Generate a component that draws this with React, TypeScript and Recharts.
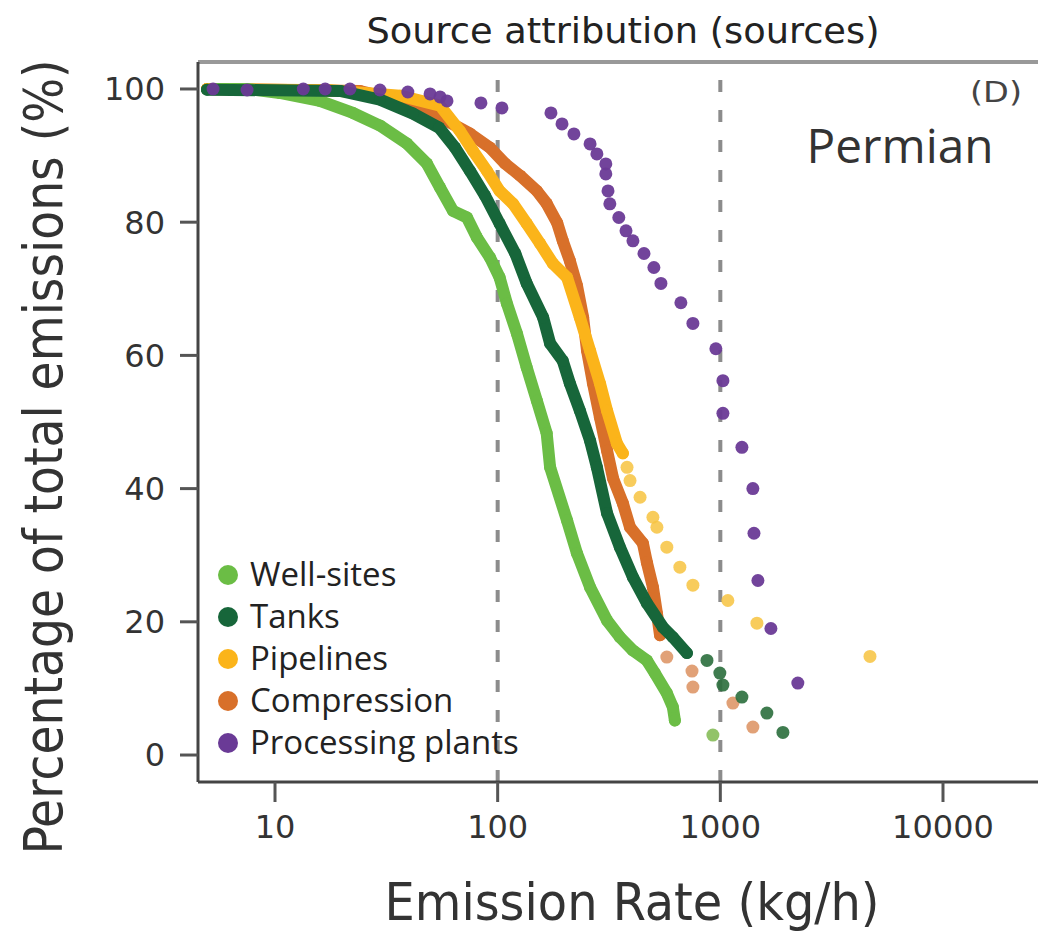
import React from 'react';
import { ComposedChart, Scatter, XAxis, YAxis, ReferenceLine } from 'recharts';

// ---- axes ----
const xTicks = [10, 100, 1000, 10000];
const yTicks = [0, 20, 40, 60, 80, 100];
const xDomain: [number, number] = [4.51, 26710];
const yDomain: [number, number] = [-4.05, 104.05];
const guideLines = [100, 1000];

// ---- series (emission rate kg/h, cumulative % of total emissions) ----
const wellSitesLine: [number, number][] = [
  [5.5, 100], [7.5, 100], [10.5, 99.4], [15.9, 98.2], [22.4, 96.4], [29.6, 94.5], [39.1, 91.8],
  [48.1, 88.8], [55.1, 85.2], [63, 81.7], [72.8, 80.7], [80.7, 77.7], [92.3, 74.7], [102, 71.7],
  [110, 67.8], [122, 63.3], [135, 58.2], [150, 53.2], [166, 48.3], [172, 43.2], [205, 35.2],
  [227, 30.3], [260, 25.2], [310, 20.2], [354, 17.7], [405, 15.7], [468, 14.2], [508, 12.3],
  [575, 9.3], [612, 7.2], [625, 5.2],
];
const wellSitesTail: [number, number][] = [[926, 3.0]];

const tanksLine: [number, number][] = [
  [4.95, 99.9], [19.6, 99.7], [29.6, 98.4], [41.7, 96.3], [54.5, 94.2], [64.3, 91.2], [75.1, 87.7],
  [87.7, 84], [102, 79.8], [120, 75.3], [135, 70.8], [160, 65.7], [172, 61.8], [196, 59.2],
  [211, 55.8], [234, 51.7], [260, 47.2], [279, 43.2], [310, 36.3], [354, 31.2], [405, 26.7],
  [468, 22.8], [552, 19.2], [612, 17.7], [708, 15.3],
];
const tanksTail: [number, number][] = [
  [871, 14.2], [995, 12.3], [1027, 10.5], [1250, 8.7], [1618, 6.3], [1910, 3.4],
];

const pipelinesLine: [number, number][] = [
  [4.95, 100], [17.7, 99.8], [36.4, 99], [55.1, 97.5], [67.7, 93.7], [77.5, 90.7], [89.5, 87.7],
  [102, 84.7], [117, 82.8], [135, 79.8], [155, 76.8], [177, 73.8], [205, 71.7], [234, 65.7],
  [260, 60.7], [288, 55.8], [310, 51.7], [343, 46.8], [365, 45.3],
];
const pipelinesTail: [number, number][] = [
  [381, 43.2], [393, 41.2], [436, 38.7], [498, 35.7], [519, 34.2], [575, 31.2], [658, 28.2],
  [753, 25.5], [1081, 23.2], [1460, 19.8], [4700, 14.8],
];

const compressionLine: [number, number][] = [
  [4.95, 100], [24.1, 99.7], [31.8, 98.7], [41.7, 97.2], [59.2, 95.2], [75.1, 93.3], [92.3, 91.2],
  [108, 88.8], [126, 87], [150, 84.7], [166, 82.8], [185, 79.9], [196, 77.2], [211, 74.2],
  [227, 70.5], [242, 65.7], [252, 60.7], [268, 55.8], [288, 50.7], [310, 45.7], [330, 41.5],
  [365, 37.8], [393, 34.2], [449, 31.8], [468, 28.9], [498, 25.2], [519, 21.3], [536, 18],
];
const compressionTail: [number, number][] = [
  [575, 14.7], [746, 12.6], [753, 10.2], [1139, 7.8], [1400, 4.2],
];

const processingPlants: [number, number][] = [
  [5.27, 100], [7.49, 99.85], [13.4, 100], [16.8, 100], [21.7, 100], [29.6, 99.85], [39.5, 99.55],
  [49.7, 99.25], [55.1, 98.8], [59.2, 98.2], [84.1, 97.9], [104.5, 97.15], [173.5, 96.4],
  [194.5, 94.75], [220, 93.25], [260, 91.75], [279, 90.25], [306, 88.75], [306, 87.25],
  [313, 84.7], [319, 82.75], [350, 80.7], [377, 78.7], [405, 77.2], [454, 75.3], [503, 73.2],
  [541, 70.8], [665, 67.9], [753, 64.8], [955, 61.0], [1027, 56.2], [1027, 51.3], [1250, 46.2],
  [1400, 40.0], [1416, 33.3], [1475, 26.2], [1687, 19.0], [2229, 10.8],
];

// ---- legend ----
const legendNames = ['Well-sites', 'Tanks', 'Pipelines', 'Compression', 'Processing plants'];
const legendColors = ['#6bbd45', '#17663a', '#fbb41a', '#d8702a', '#6a3a96'];

const toPts = (arr: [number, number][]) => arr.map(([x, y]) => ({ x, y }));

const dotShape = (r: number, color: string, opacity: number) => (props: any) => {
  if (props.cx == null || props.cy == null) return <g />;
  return <circle cx={props.cx} cy={props.cy} r={r} fill={color} fillOpacity={opacity} />;
};

const lineSeries = [
  { key: 'comp', data: compressionLine, color: legendColors[3] },
  { key: 'pipe', data: pipelinesLine, color: legendColors[2] },
  { key: 'well', data: wellSitesLine, color: legendColors[0] },
  { key: 'tank', data: tanksLine, color: legendColors[1] },
];
const tailSeries = [
  { key: 'compT', data: compressionTail, color: '#d98a55', op: 0.8 },
  { key: 'pipeT', data: pipelinesTail, color: '#f7c340', op: 0.85 },
  { key: 'wellT', data: wellSitesTail, color: '#7fb84f', op: 0.85 },
  { key: 'tankT', data: tanksTail, color: '#2a6e3c', op: 0.9 },
];

const LABEL_FONT = '"Liberation Sans Narrow", "DejaVu Sans Condensed", "Open Sans", sans-serif';

export default function App() {
  return (
    <div style={{ position: 'absolute', left: 0, top: 0, width: 1038, height: 936, background: '#fff' }}>
      <ComposedChart width={1038} height={936} margin={{ top: 62, right: 0, bottom: 94, left: 0 }}>
        <XAxis
          type="number"
          dataKey="x"
          scale="log"
          domain={xDomain}
          allowDataOverflow
          ticks={xTicks}
          interval={0}
          height={60}
          tickSize={20}
          tickMargin={13}
          axisLine={{ stroke: '#444', strokeWidth: 3 }}
          tickLine={{ stroke: '#555', strokeWidth: 3 }}
          tick={{ fill: '#333', fontSize: 32, fontFamily: 'DejaVu Sans' }}
        />
        <YAxis
          type="number"
          dataKey="y"
          domain={yDomain}
          allowDataOverflow
          ticks={yTicks}
          interval={0}
          width={198}
          tickSize={18}
          tickMargin={15}
          axisLine={{ stroke: '#444', strokeWidth: 3 }}
          tickLine={{ stroke: '#555', strokeWidth: 3 }}
          tick={{ fill: '#333', fontSize: 32, fontFamily: 'DejaVu Sans' }}
        />
        <ReferenceLine y={yDomain[1]} stroke="#999" strokeWidth={4} ifOverflow="visible" />
        {guideLines.map((g) => (
          <ReferenceLine key={g} x={g} stroke="#8c8c8c" strokeWidth={4} strokeDasharray="12 18" />
        ))}
        {lineSeries.map((s) => (
          <Scatter
            key={s.key}
            data={toPts(s.data)}
            fill={s.color}
            line={{ stroke: s.color, strokeWidth: 12, strokeLinejoin: 'round', strokeLinecap: 'round' }}
            lineType="joint"
            shape={dotShape(6, s.color, 1)}
            isAnimationActive={false}
          />
        ))}
        {tailSeries.map((s) => (
          <Scatter
            key={s.key}
            data={toPts(s.data)}
            fill={s.color}
            shape={dotShape(6.5, s.color, s.op)}
            isAnimationActive={false}
          />
        ))}
        <Scatter
          data={toPts(processingPlants)}
          fill={legendColors[4]}
          shape={dotShape(6.5, legendColors[4], 0.95)}
          isAnimationActive={false}
        />
      </ComposedChart>
      <svg
        width={1038}
        height={936}
        style={{ position: 'absolute', left: 0, top: 0, pointerEvents: 'none' }}
      >
        <text x={623} y={43} fontSize={36} fontFamily={LABEL_FONT} fill="#222" textAnchor="middle"
          textLength={513} lengthAdjust="spacingAndGlyphs">Source attribution (sources)</text>
        <text transform="translate(62,457) rotate(-90)" fontSize={53} fontFamily={LABEL_FONT} fill="#333"
          textAnchor="middle" textLength={795} lengthAdjust="spacingAndGlyphs">Percentage of total emissions (%)</text>
        <text x={632} y={920} fontSize={52} fontFamily={LABEL_FONT} fill="#333" textAnchor="middle"
          textLength={495} lengthAdjust="spacingAndGlyphs">Emission Rate (kg/h)</text>
        <text x={996} y={102} fontSize={29} fontFamily={LABEL_FONT} fill="#444" textAnchor="middle"
          textLength={52} lengthAdjust="spacingAndGlyphs">(D)</text>
        <text x={900} y={163} fontSize={48} fontFamily='"Open Sans", sans-serif' fill="#333" textAnchor="middle"
          textLength={187} lengthAdjust="spacingAndGlyphs">Permian</text>
        {legendNames.map((n, i) => (
          <g key={n}>
            <circle cx={228} cy={575 + i * 42} r={10} fill={legendColors[i]} />
            <text x={250} y={575 + i * 42 + 11} fontSize={33} fontFamily='"Open Sans", sans-serif' fill="#222">{n}</text>
          </g>
        ))}
      </svg>
    </div>
  );
}
